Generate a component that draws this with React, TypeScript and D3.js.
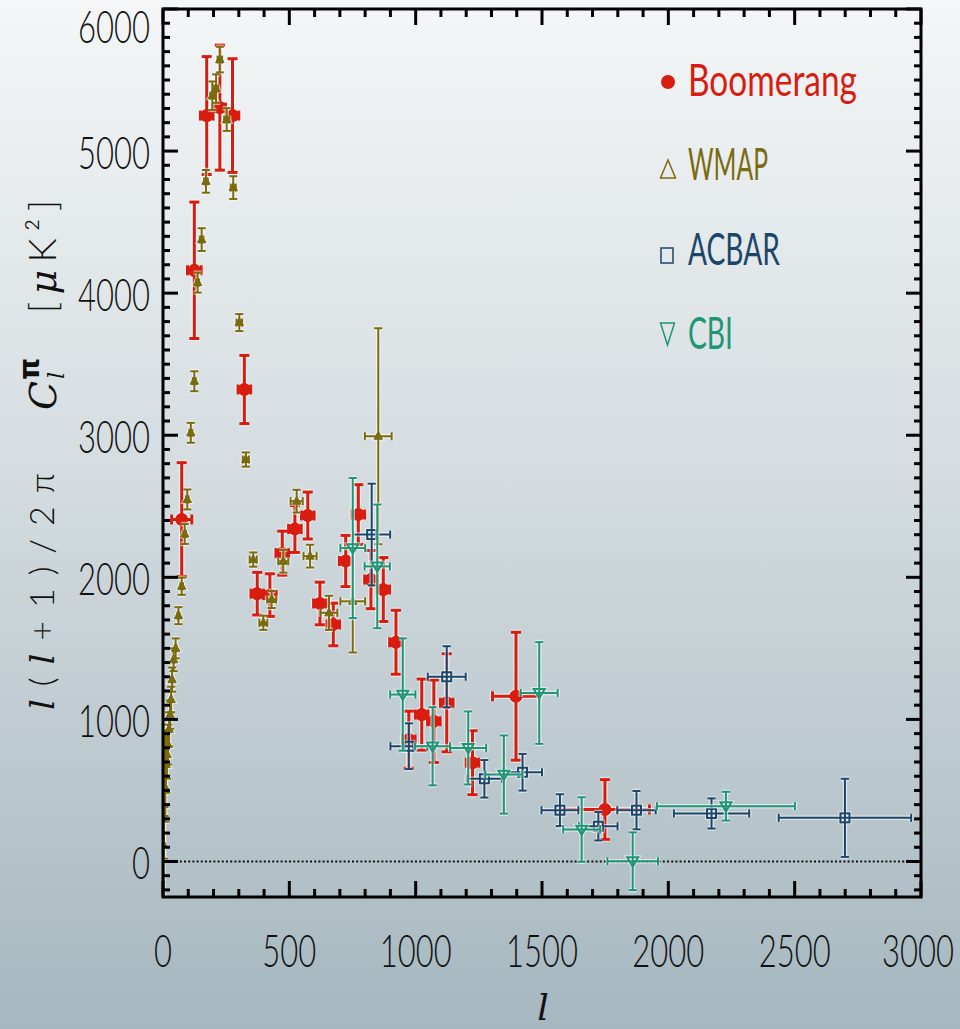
import React from "react";
import * as d3 from "d3";

// [l, value, yErr, lErr]
const boomerang: number[][] = [
  [74, 2407, 400, 40], [124, 4161, 480, 27], [173, 5250, 415, 25], [225, 5306, 440, 22],
  [275, 5250, 400, 25], [322, 3322, 240, 25], [373, 1885, 150, 25], [423, 1875, 150, 25],
  [472, 2170, 155, 25], [522, 2340, 165, 25], [573, 2435, 165, 25], [621, 1816, 150, 25],
  [674, 1668, 150, 25], [723, 2115, 180, 25], [773, 2442, 210, 25], [823, 1984, 205, 25],
  [872, 1914, 225, 25], [922, 1543, 225, 25], [973, 858, 200, 25], [1024, 1034, 250, 25],
  [1072, 987, 290, 25], [1123, 1117, 345, 25], [1225, 695, 225, 25], [1397, 1163, 450, 93],
  [1749, 366, 210, 176],
];
const wmap: number[][] = [
  [2, 120, 520, 1], [4, 400, 380, 1], [6, 620, 300, 1], [9, 520, 240, 1], [12, 683, 200, 1],
  [16, 753, 170, 2], [20, 823, 140, 2], [24, 930, 120, 2], [28, 1034, 100, 2], [32, 1140, 90, 2],
  [36, 1280, 85, 2], [42, 1420, 80, 3], [50, 1500, 70, 3], [61, 1730, 60, 4], [74, 1937, 60, 5],
  [86, 2305, 70, 5], [96, 2548, 70, 5], [110, 3017, 70, 6], [124, 3380, 70, 6], [137, 4074, 70, 6],
  [153, 4377, 80, 7], [170, 4787, 80, 7], [195, 5390, 100, 8], [210, 5440, 100, 8],
  [225, 5644, 90, 9], [252, 5222, 80, 10], [278, 4743, 80, 10], [302, 3793, 60, 11],
  [328, 2829, 50, 12], [357, 2125, 50, 14], [397, 1680, 50, 16], [430, 1844, 60, 18],
  [476, 2113, 80, 20], [529, 2536, 80, 24], [582, 2149, 80, 26], [657, 1750, 120, 33],
  [751, 1831, 360, 49], [852, 2993, 760, 53],
];
const acbar: number[][] = [
  [826, 2301, 358, 73], [973, 811, 161, 73], [1123, 1300, 215, 75], [1272, 582, 132, 69],
  [1423, 628, 129, 77], [1571, 361, 112, 73], [1723, 248, 100, 76], [1874, 361, 135, 76],
  [2171, 338, 106, 149], [2699, 307, 275, 262],
];
const cbi: number[][] = [
  [751, 2206, 493, 49], [848, 2077, 435, 50], [949, 1175, 395, 50], [1067, 811, 275, 69],
  [1208, 799, 257, 71], [1349, 612, 275, 73], [1489, 1186, 358, 73], [1657, 225, 227, 73],
  [1859, 2, 203, 100], [2228, 389, 101, 273],
];
const legendNames = ["Boomerang", "WMAP", "ACBAR", "CBI"];
const xTickValues = [0, 500, 1000, 1500, 2000, 2500, 3000];
const yTickValues = [0, 1000, 2000, 3000, 4000, 5000, 6000];

const RED = "#d81c10";
const OLIVE = "#7b6b0f";
const BLUE = "#1c4669";
const GREEN = "#1e9676";
const FONT = "Lato, 'Open Sans', sans-serif";
const SERIF = "'DejaVu Serif', serif";

const x = d3.scaleLinear().domain([0, 3000]).range([163, 921]);
const y = d3.scaleLinear().domain([-250, 6000]).range([897, 9]);

type Style = { color: string; sw: number; cap: number; marker: string; size: number };

function ErrPoint({ d, s, halo }: { d: number[]; s: Style; halo: boolean }) {
  const [l, v, e, le] = d;
  const cx = x(l), cy = y(v);
  const y0 = y(Math.max(v - e, -250)), y1 = y(Math.min(v + e, 6000));
  const x0 = x(Math.max(l - le, 0)), x1 = x(l + le);
  const stroke = halo ? "rgba(255,255,255,0.55)" : s.color;
  const sw = halo ? s.sw + 2.5 : s.sw;
  const c = s.cap;
  const r = s.size;
  let mk: React.ReactNode = null;
  if (s.marker === "circle") {
    mk = <circle cx={cx} cy={cy} r={r} fill={halo ? "none" : s.color} stroke={halo ? stroke : "none"} strokeWidth={halo ? 2.5 : 0} />;
  } else if (s.marker === "tri") {
    const p = d3.path();
    p.moveTo(cx, cy - r); p.lineTo(cx + r * 0.85, cy + r * 0.6); p.lineTo(cx - r * 0.85, cy + r * 0.6); p.closePath();
    mk = <path d={p.toString()} fill={halo ? "none" : s.color} stroke={stroke} strokeWidth={halo ? 3 : 1} />;
  } else if (s.marker === "square") {
    mk = <rect x={cx - r} y={cy - r} width={2 * r} height={2 * r} fill="none" stroke={stroke} strokeWidth={halo ? 4 : 2} />;
  } else {
    const p = d3.path();
    p.moveTo(cx - r, cy - r * 0.7); p.lineTo(cx + r, cy - r * 0.7); p.lineTo(cx, cy + r); p.closePath();
    mk = <path d={p.toString()} fill="none" stroke={stroke} strokeWidth={halo ? 4 : 2} />;
  }
  return (
    <g stroke={stroke} strokeWidth={sw} fill="none">
      <line x1={cx} x2={cx} y1={y0} y2={y1} />
      <line x1={cx - c} x2={cx + c} y1={y0} y2={y0} />
      <line x1={cx - c} x2={cx + c} y1={y1} y2={y1} />
      <line x1={x0} x2={x1} y1={cy} y2={cy} />
      <line x1={x0} x2={x0} y1={cy - c} y2={cy + c} />
      <line x1={x1} x2={x1} y1={cy - c} y2={cy + c} />
      {mk}
    </g>
  );
}

function Series({ data, s }: { data: number[][]; s: Style }) {
  return (
    <g>
      {data.map((d, i) => <ErrPoint key={"h" + i} d={d} s={s} halo={true} />)}
      {data.map((d, i) => <ErrPoint key={"p" + i} d={d} s={s} halo={false} />)}
    </g>
  );
}

export default function App() {
  const xMinor = d3.range(0, 3001, 100);
  const yMinor = d3.range(-200, 6001, 100);
  const L = x.range()[0], R = x.range()[1], T = y.range()[1], B = y.range()[0];
  const legendStyles = [
    { color: RED, baseline: 96 }, { color: OLIVE, baseline: 180 },
    { color: BLUE, baseline: 265 }, { color: GREEN, baseline: 349 },
  ];
  const legendLens = [169, 80, 92, 45];
  return (
    <svg width={960} height={1029} style={{ position: "absolute", left: 0, top: 0 }}>
      <defs>
        <linearGradient id="bg" x1="0" y1="0" x2="0" y2="1">
          <stop offset="0" stopColor="#f4f6f7" />
          <stop offset="0.45" stopColor="#d5dde0" />
          <stop offset="1" stopColor="#a6b7bf" />
        </linearGradient>
        <clipPath id="plot"><rect x={L} y={T} width={R - L} height={B - T} /></clipPath>
      </defs>
      <rect x={0} y={0} width={960} height={1029} fill="url(#bg)" />

      {/* zero line */}
      <line x1={L} x2={R} y1={y(0)} y2={y(0)} stroke="#111" strokeWidth={2} strokeDasharray="2 2.2" />

      <g clipPath="url(#plot)">
        <Series data={boomerang} s={{ color: RED, sw: 3, cap: 5, marker: "circle", size: 6.5 }} />
        <Series data={wmap} s={{ color: OLIVE, sw: 2, cap: 4, marker: "tri", size: 5 }} />
        <Series data={acbar} s={{ color: BLUE, sw: 2, cap: 4, marker: "square", size: 4.5 }} />
        <Series data={cbi} s={{ color: GREEN, sw: 2, cap: 4, marker: "tridown", size: 5.5 }} />
      </g>

      {/* ticks */}
      <g stroke="#000" strokeWidth={3}>
        {xMinor.map((v) => {
          const len = v % 500 === 0 ? 16 : 8;
          return (
            <g key={"xt" + v}>
              <line x1={x(v)} x2={x(v)} y1={B} y2={B - len} />
              <line x1={x(v)} x2={x(v)} y1={T} y2={T + len} />
            </g>
          );
        })}
        {yMinor.map((v) => {
          const len = v % 1000 === 0 ? 15 : 7;
          return (
            <g key={"yt" + v}>
              <line x1={L} x2={L + len} y1={y(v)} y2={y(v)} />
              <line x1={R} x2={R - len} y1={y(v)} y2={y(v)} />
            </g>
          );
        })}
      </g>
      <rect x={L} y={T} width={R - L} height={B - T} fill="none" stroke="#000" strokeWidth={3} />

      {/* tick labels */}
      <g fontFamily={FONT} fontWeight={300} fontSize={45} fill="#111">
        {yTickValues.map((v) => {
          const s = String(v);
          return (
            <text key={"yl" + v} x={150} y={Math.max(y(v) + 18, 43)} textAnchor="end"
              textLength={s.length * 18} lengthAdjust="spacingAndGlyphs">{s}</text>
          );
        })}
        {xTickValues.map((v) => {
          const s = String(v);
          return (
            <text key={"xl" + v} x={Math.min(x(v), 918)} y={967} textAnchor="middle"
              textLength={s.length * 18} lengthAdjust="spacingAndGlyphs">{s}</text>
          );
        })}
      </g>

      {/* axis titles */}
      <text x={543} y={1020} fontFamily={SERIF} fontStyle="italic" fontSize={36} textAnchor="middle" fill="#111">l</text>
      <g fill="#111">
        <g transform="translate(54,710) rotate(-90)">
          <text x={0} y={0} fontFamily={FONT} fontWeight={300} fontSize={34} textLength={237} lengthAdjust="spacing">
            <tspan fontFamily={SERIF} fontStyle="italic">l</tspan>(<tspan fontFamily={SERIF} fontStyle="italic">l</tspan>+1)/2π
          </text>
        </g>
        <g transform="translate(56,410) rotate(-90)">
          <text x={0} y={0} fontFamily={SERIF} fontStyle="italic" fontSize={38}>C</text>
          <text x={30} y={-17} fontFamily="'DejaVu Sans', sans-serif" fontWeight="bold" fontSize={28}>π</text>
          <text x={31} y={8} fontFamily={SERIF} fontStyle="italic" fontSize={22}>l</text>
        </g>
        <g transform="translate(56,313) rotate(-90)">
          <text x={0} y={0} fontFamily={FONT} fontWeight={300} fontSize={38} textLength={113} lengthAdjust="spacing">
            [<tspan fontFamily={SERIF} fontStyle="italic">μ</tspan>K²]
          </text>
        </g>
      </g>

      {/* legend */}
      <g>
        <circle cx={668} cy={82} r={7} fill={RED} />
        <path d={`M668,160 L675.5,178 L660.5,178 Z`} fill="none" stroke={OLIVE} strokeWidth={1.5} />
        <rect x={661} y={248} width={12} height={15} fill="none" stroke={BLUE} strokeWidth={1.5} />
        <path d={`M660.5,323 L674.5,323 L667.5,345 Z`} fill="none" stroke={GREEN} strokeWidth={1.5} />
        {legendNames.map((n, i) => (
          <text key={n} x={688} y={legendStyles[i].baseline} fill={legendStyles[i].color}
            fontFamily={FONT} fontWeight={400} fontSize={44} textLength={legendLens[i]}
            lengthAdjust="spacingAndGlyphs">{n}</text>
        ))}
      </g>
    </svg>
  );
}
